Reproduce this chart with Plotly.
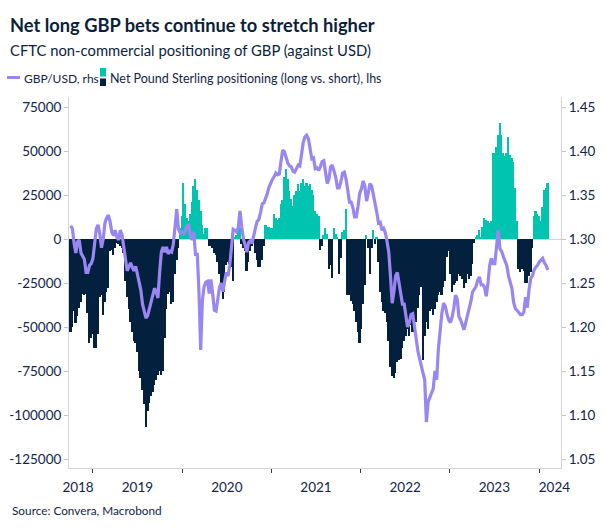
import plotly.graph_objects as go
import pandas as pd

# ---------------- DATA (weekly, CFTC report dates) ----------------
first_week = "2018-10-02"

# Net non-commercial GBP positioning, thousands of contracts (lhs)
net_positioning_k = [
    -53, -50, -41, -48, -44, -39, -36, -31, -32, -31, -42, -59, -56, -54, -62, -62, -54, -33, -32, -43, -36, -30, -28,
    -7, -6, -9, -5, -2, -3, -4, -5, -8, -24, -33, -40, -47, -53, -58, -59, -64, -75, -79, -86, -94, -107, -98, -93,
    -89, -87, -83, -80, -77, -75, -77, -75,
    -56, -40, -31, -30, -37, -36, -20, -12, -5,
    6, 13, 32, 20, 12, 10, 14, 21, 30, 34, 28, 22, 16, 8, 3, 6, 6,
    -4, -4, -5, -8, -9, -13, -20, -28, -34, -30, -15, -13, -14, -16, -24, 1, 2, 5, 6,
    -3, -5, -7, -18, -13, -7, -4, -2, -8, -12, -16, -16, -12, -4,
    8, 7, 7, 6, 6, 14, 12, 11, 12, 20, 22, 35, 40, 34, 27, 23, 19, 25, 27, 31, 27, 32, 34, 30, 32, 30, 31, 28, 25, 16,
    14, 13,
    -6, -4, 2, 6, 3, -17, -15, -22, 6, 3, 1, -20, -11, 4, 5, 17, -32, -32, -35, -37, -41,
    -47, -53, -59, -51, -37, -26, 2, -5, -20, -5, 5, -3, 1, -13, -30, -36, -41, -42, -47, -58, -73, -78, -79,
    -76, -70, -69, -68, -62, -58, -55, -51, -55, -49, -53, -49, -47, -39, -32, -27, -69, -55, -47, -51,
    -41, -40, -43, -40, -36, -32, -30, -32, -27, -24, -10, -7, -20,
    -30, -26, -25, -24, -20, -21, -23, -28, -25, -20, -23, -21, -14, -2, 1, 2, 5, 1, 7, 12,
    11, 10, 9, 10, 49, 49, 52, 59, 66, 59, 49, 47, 49, 58, 48, 46, 44, 29, 10, -17,
    -19, -17, -18, -25, -25, -21, -19, -5, 13, 16, 14, 13, 10, 18, 28, 29, 32,
]

# GBP/USD spot (rhs)
gbpusd = [
    1.315, 1.312, 1.295, 1.284, 1.297, 1.299, 1.284, 1.280, 1.277, 1.262, 1.262, 1.270, 1.272, 1.278, 1.292, 1.312,
    1.316, 1.306, 1.290, 1.300, 1.318, 1.324, 1.327, 1.320, 1.308, 1.304, 1.310, 1.302, 1.299, 1.310, 1.305, 1.290,
    1.274, 1.264, 1.268, 1.273, 1.268, 1.264, 1.269, 1.260, 1.253, 1.242, 1.226, 1.217, 1.210, 1.213, 1.221, 1.228,
    1.236, 1.244, 1.240, 1.233, 1.262, 1.285, 1.291,
    1.285, 1.291, 1.283, 1.286, 1.285, 1.294, 1.318, 1.334, 1.311, 1.307, 1.308, 1.306, 1.309, 1.315, 1.316,
    1.303, 1.299, 1.308, 1.281, 1.284, 1.240, 1.174, 1.230, 1.246, 1.251, 1.252, 1.238, 1.254, 1.238, 1.219,
    1.218, 1.230, 1.245, 1.250, 1.240, 1.252, 1.262, 1.258, 1.270, 1.290, 1.311, 1.310, 1.308, 1.313, 1.332,
    1.314, 1.300, 1.293, 1.285, 1.296, 1.298, 1.295, 1.306, 1.312, 1.320,
    1.322, 1.330, 1.340, 1.341, 1.346, 1.352, 1.359, 1.364, 1.368, 1.371, 1.375, 1.373, 1.374, 1.389, 1.401,
    1.399, 1.392, 1.386, 1.383, 1.382, 1.377, 1.376, 1.380, 1.384, 1.383, 1.395, 1.410, 1.416, 1.418, 1.414,
    1.400, 1.391, 1.392, 1.380, 1.381, 1.378, 1.382, 1.388, 1.389, 1.375, 1.363, 1.368, 1.382, 1.384, 1.378,
    1.370, 1.358, 1.358, 1.365, 1.375, 1.376, 1.368, 1.356, 1.342, 1.342, 1.336, 1.325,
    1.325, 1.337, 1.352, 1.357, 1.366, 1.360, 1.343, 1.352, 1.363, 1.360, 1.348, 1.340, 1.330, 1.318, 1.319,
    1.310, 1.312, 1.307, 1.297, 1.285, 1.258, 1.227, 1.240, 1.258, 1.262, 1.250, 1.238, 1.226, 1.226, 1.209,
    1.200, 1.205, 1.214, 1.215, 1.200, 1.186, 1.173, 1.164, 1.156, 1.150, 1.140, 1.092, 1.115, 1.120, 1.125,
    1.130, 1.150, 1.140, 1.175, 1.197, 1.215, 1.227, 1.224, 1.215, 1.208, 1.205,
    1.211, 1.221, 1.236, 1.232, 1.212, 1.208, 1.202, 1.197, 1.205, 1.213, 1.218, 1.229, 1.240, 1.244, 1.246,
    1.253, 1.257, 1.248, 1.248, 1.245, 1.235, 1.250, 1.270, 1.278, 1.272, 1.272, 1.290, 1.310, 1.289, 1.286,
    1.280, 1.274, 1.270, 1.258, 1.252, 1.244, 1.228, 1.221, 1.219, 1.216, 1.214, 1.214, 1.217, 1.234, 1.222,
    1.242, 1.255, 1.258, 1.265, 1.268, 1.270, 1.274, 1.276, 1.278, 1.273, 1.270, 1.265,
]

year_labels = ["2018", "2019", "2020", "2021", "2022", "2023", "2024"]
year_label_dates = ["2018-11-01", "2019-07-02", "2020-07-02", "2021-07-02", "2022-07-02", "2023-07-02", "2024-03-04"]
year_starts = ["2019-01-01", "2020-01-01", "2021-01-01", "2022-01-01", "2023-01-01", "2024-01-01"]

lhs_ticks = [-125000, -100000, -75000, -50000, -25000, 0, 25000, 50000, 75000]
rhs_ticks = [1.05, 1.10, 1.15, 1.20, 1.25, 1.30, 1.35, 1.40, 1.45]

title = "Net long GBP bets continue to stretch higher"
subtitle = "CFTC non-commercial positioning of GBP (against USD)"
line_name = "GBP/USD, rhs"
bar_name = "Net Pound Sterling positioning (long vs. short), lhs"
source = "Source: Convera, Macrobond"

# ---------------- STYLE ----------------
W, H = 604, 529
ML, MR, MT, MB = 69, 43, 97, 61
PW, PH = W - ML - MR, H - MT - MB
TEAL = "#00c4b0"
NAVY = "#03203f"
LAV = "#9a86f2"
TXT = "#13244a"
AXIS = "#d4d4d4"
FONT = "Lato"


def px(x):
    return (x - ML) / PW


def py(y):
    return (H - MB - y) / PH


dates = pd.date_range(first_week, periods=len(net_positioning_k), freq="7D")
positioning = [v * 1000 for v in net_positioning_k]
bar_colors = [TEAL if v >= 0 else NAVY for v in positioning]

fig = go.Figure()
fig.add_trace(go.Bar(
    x=dates, y=positioning, width=7 * 86400000,
    marker=dict(color=bar_colors, line=dict(width=0)),
    yaxis="y", showlegend=False, name=bar_name,
))
fig.add_trace(go.Scatter(
    x=dates[:len(gbpusd)], y=gbpusd, mode="lines",
    line=dict(color=LAV, width=3.2),
    yaxis="y2", showlegend=False, name=line_name,
))

lo, hi = -130114, 80682
fig.update_layout(
    width=W, height=H,
    margin=dict(l=ML, r=MR, t=MT, b=MB, pad=0, autoexpand=False),
    paper_bgcolor="white", plot_bgcolor="white",
    bargap=0,
    font=dict(family=FONT, size=13, color=TXT),
    xaxis=dict(
        type="date", range=["2018-09-25", "2024-03-31"], automargin=False,
        showline=True, linecolor=AXIS, linewidth=1, showgrid=False, zeroline=False,
        tickvals=year_label_dates, ticktext=year_labels,
        ticks="outside", ticklen=7, tickcolor="rgba(0,0,0,0)",
        tickfont=dict(size=13.5, color=TXT),
        minor=dict(tickvals=year_starts, ticks="outside", ticklen=4, tickcolor="#3a3a3a", tickwidth=1, showgrid=False),
    ),
    yaxis=dict(
        range=[lo, hi], tickvals=lhs_ticks, automargin=False,
        ticktext=[("-" if v < 0 else "") + str(abs(v)) for v in lhs_ticks],
        showline=True, linecolor=AXIS, linewidth=1, showgrid=False,
        zeroline=True, zerolinecolor=AXIS, zerolinewidth=1,
        ticks="outside", ticklen=4, tickcolor="#c4c4c4",
        tickfont=dict(size=13.5, color=TXT),
    ),
    yaxis2=dict(
        range=[1.30 + lo / 500000, 1.30 + hi / 500000], overlaying="y", side="right", automargin=False,
        tickvals=rhs_ticks, ticktext=[f"{v:.2f}" for v in rhs_ticks],
        showline=True, linecolor=AXIS, linewidth=1, showgrid=False, zeroline=False,
        ticks="outside", ticklen=4, tickcolor="#c4c4c4",
        tickfont=dict(size=13.5, color=TXT),
    ),
)

ann = []
ann.append(dict(text=f"<b>{title}</b>", x=px(8), y=py(25), xanchor="left", yanchor="middle",
                font=dict(size=18.3, color="#0b1e3b", family=FONT)))
ann.append(dict(text=subtitle, x=px(8), y=py(49.5), xanchor="left", yanchor="middle",
                font=dict(size=14.8, color="#0b1e3b", family=FONT)))
ann.append(dict(text=line_name, x=px(21.5), y=py(78), xanchor="left", yanchor="middle",
                font=dict(size=12, color=TXT, family=FONT)))
ann.append(dict(text=bar_name, x=px(108), y=py(78), xanchor="left", yanchor="middle",
                font=dict(size=12.5, color=TXT, family=FONT)))
ann.append(dict(text=source, x=px(10), y=py(511), xanchor="left", yanchor="middle",
                font=dict(size=11.8, color=TXT, family=FONT)))
for a in ann:
    a.update(xref="paper", yref="paper", showarrow=False)
fig.update_layout(annotations=ann)

shapes = [
    dict(type="line", x0=px(7), x1=px(20), y0=py(77.5), y1=py(77.5), line=dict(color=LAV, width=3)),
    dict(type="rect", x0=px(100), x1=px(106), y0=py(76.5), y1=py(68), fillcolor=TEAL, line=dict(width=0)),
    dict(type="rect", x0=px(100), x1=px(106), y0=py(86), y1=py(78.5), fillcolor=NAVY, line=dict(width=0)),
]
for s in shapes:
    s.update(xref="paper", yref="paper", layer="above")
fig.update_layout(shapes=shapes)

post = (
    "var s=document.createElement('style');"
    "s.innerHTML='html,body{margin:0!important;padding:0!important;overflow:hidden;}"
    " .bars path{shape-rendering:crispEdges!important;}';"
    "document.head.appendChild(s);"
)
fig.write_html("out.html", post_script=post, config={"displayModeBar": False})
